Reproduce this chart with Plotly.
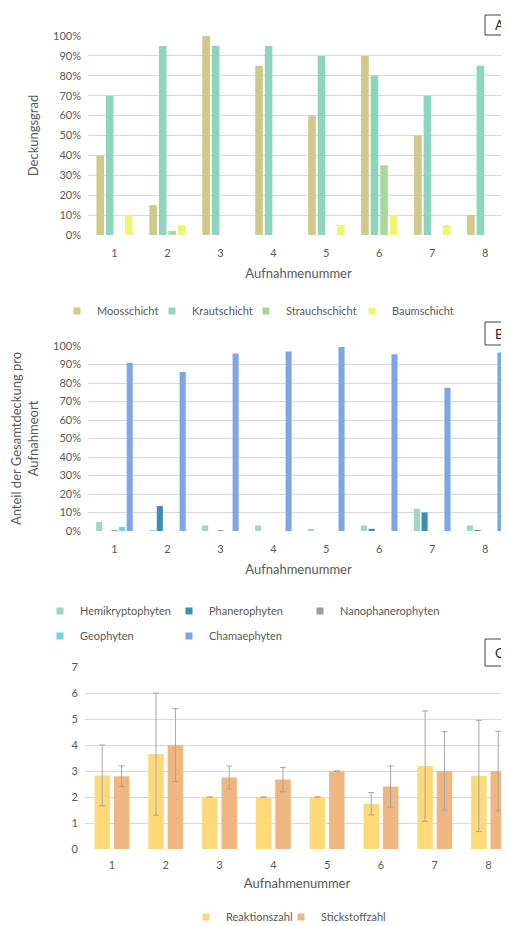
import plotly.graph_objects as go

# page body has an 8px margin; the figure is sized so it fills the 509x926 window
OFF = 8
W, H = 509 - OFF, 926 - OFF
FONT = "Lato"
TXT = "#595959"
GRID = "#D9D9D9"

# ---------- data ----------
aufnahmen = [1, 2, 3, 4, 5, 6, 7, 8]
tick_labels = ["1", "2", "3", "4", "5", "6", "7", "8"]

# Chart A (Deckungsgrad, fraction)
moosschicht = [0.40, 0.15, 1.00, 0.85, 0.60, 0.90, 0.50, 0.10]
krautschicht = [0.70, 0.95, 0.95, 0.95, 0.90, 0.80, 0.70, 0.85]
strauchschicht = [0.00, 0.02, 0.00, 0.00, 0.00, 0.35, 0.00, 0.00]
baumschicht = [0.10, 0.05, 0.00, 0.00, 0.05, 0.10, 0.05, 0.00]

# Chart B (Anteil der Gesamtdeckung, fraction)
hemikryptophyten = [0.05, 0.003, 0.03, 0.03, 0.008, 0.03, 0.12, 0.03]
phanerophyten = [0.0, 0.135, 0.0, 0.0, 0.0, 0.012, 0.10, 0.005]
nanophanerophyten = [0.005, 0.0, 0.005, 0.0, 0.0, 0.0, 0.0, 0.0]
geophyten = [0.022, 0.0, 0.0, 0.0, 0.0, 0.0, 0.0, 0.0]
chamaephyten = [0.91, 0.86, 0.96, 0.97, 0.995, 0.955, 0.775, 0.965]

# Chart C (Zeigerwerte, mean and standard deviation)
reaktionszahl = [2.83, 3.65, 2.0, 2.0, 2.0, 1.74, 3.19, 2.81]
reaktion_sd = [1.17, 2.35, 0.0, 0.0, 0.0, 0.43, 2.12, 2.14]
stickstoffzahl = [2.80, 4.0, 2.75, 2.67, 3.0, 2.40, 3.0, 3.0]
stickstoff_sd = [0.40, 1.40, 0.44, 0.47, 0.0, 0.79, 1.51, 1.53]

pct_ticks = [0, 0.1, 0.2, 0.3, 0.4, 0.5, 0.6, 0.7, 0.8, 0.9, 1.0]
pct_labels = ["0%", "10%", "20%", "30%", "40%", "50%", "60%", "70%", "80%", "90%", "100%"]
c_ticks = [0, 1, 2, 3, 4, 5, 6, 7]


def px_x(p):
    return (p - OFF) / W


def px_y(p):
    return 1 - (p - OFF) / H


fig = go.Figure()
legend_font = dict(family=FONT, size=11, color=TXT)
legend_layout = {}
legend_count = [0]


def add_bars(names, values, colors, xa, ya, legend_pos, err=None):
    for i, (n, v, c) in enumerate(zip(names, values, colors)):
        kw = {}
        if err is not None and err[i] is not None:
            kw["error_y"] = dict(type="data", array=err[i], visible=True,
                                 color="#A6A6A6", thickness=1, width=3)
        fig.add_trace(go.Bar(x=aufnahmen, y=v, name=n, marker_color=c,
                             marker_line_width=0, xaxis=xa, yaxis=ya,
                             offsetgroup=f"{xa}{i}", showlegend=False,
                             hoverinfo="skip", **kw))
        # one legend per entry, placed where the original legend shows it
        legend_count[0] += 1
        lname = "legend" if legend_count[0] == 1 else f"legend{legend_count[0]}"
        lx, ly = legend_pos[i]
        legend_layout[lname] = dict(x=px_x(lx), y=px_y(ly), xanchor="left", yanchor="middle",
                                    orientation="h", font=legend_font, itemwidth=30,
                                    bgcolor="rgba(0,0,0,0)")
        fig.add_trace(go.Scatter(x=[None], y=[None], mode="markers", name=n,
                                 marker=dict(symbol="square", size=7, color=c),
                                 xaxis=xa, yaxis=ya, legend=lname,
                                 showlegend=True, hoverinfo="skip"))


add_bars(["Moosschicht", "Krautschicht", "Strauchschicht", "Baumschicht"],
         [moosschicht, krautschicht, strauchschicht, baumschicht],
         ["#CFC98A", "#8ED5C0", "#A8D99A", "#EEF56E"], "x", "y",
         [(57, 311), (152, 311), (246, 311), (352, 311)])

add_bars(["Hemikryptophyten", "Phanerophyten", "Nanophanerophyten", "Geophyten", "Chamaephyten"],
         [hemikryptophyten, phanerophyten, nanophanerophyten, geophyten, chamaephyten],
         ["#9ED8C2", "#3A8FB0", "#9E9E9E", "#6FD3E6", "#7FA6E3"], "x2", "y2",
         [(40, 611), (169, 611), (300, 611), (40, 636), (169, 636)])

add_bars(["Reaktionszahl", "Stickstoffzahl"],
         [reaktionszahl, stickstoffzahl],
         ["#FDD977", "#EFB77F"], "x3", "y3",
         [(186, 917), (281, 917)],
         err=[reaktion_sd, stickstoff_sd])

axis_font = dict(family=FONT, size=11, color=TXT)
title_font = dict(family=FONT, size=13, color=TXT)

common_x = dict(tickmode="array", tickvals=aufnahmen, ticktext=tick_labels,
                tickfont=axis_font, showgrid=False, zeroline=False,
                showline=False, ticks="", fixedrange=True, automargin=False)
common_y = dict(tickfont=axis_font, showgrid=True, gridcolor=GRID, gridwidth=1,
                zeroline=False, showline=False, ticks="", fixedrange=True,
                automargin=False)

fig.update_layout(
    width=W, height=H,
    margin=dict(l=0, r=0, t=0, b=0, autoexpand=False),
    paper_bgcolor="white", plot_bgcolor="white",
    font=dict(family=FONT, color=TXT),
    barmode="group",
    bargap=0.28, bargroupgap=0.2,
    showlegend=True,
    xaxis=dict(domain=[px_x(88), 1.0], range=[0.5, 8.45], anchor="y", ticklabelstandoff=10,
               title=dict(text="Aufnahmenummer", font=title_font, standoff=10), **common_x),
    yaxis=dict(domain=[px_y(235), px_y(36)], range=[0, 1.0], anchor="x", ticklabelstandoff=6,
               tickvals=pct_ticks, ticktext=pct_labels,
               title=dict(text="Deckungsgrad", font=title_font, standoff=11), **common_y),
    xaxis2=dict(domain=[px_x(88), 1.0], range=[0.5, 8.45], anchor="y2", ticklabelstandoff=10,
                title=dict(text="Aufnahmenummer", font=title_font, standoff=10), **common_x),
    yaxis2=dict(domain=[px_y(531), px_y(346)], range=[0, 1.0], anchor="x2", ticklabelstandoff=6,
                tickvals=pct_ticks, ticktext=pct_labels,
                title=dict(text="Anteil der Gesamtdeckung pro<br>Aufnahmeort", font=title_font, standoff=12),
                **common_y),
    xaxis3=dict(domain=[px_x(85), 1.0], range=[0.5, 8.38], anchor="y3", ticklabelstandoff=8,
                title=dict(text="Aufnahmenummer", font=title_font, standoff=8), **common_x),
    yaxis3=dict(domain=[px_y(849), px_y(667)], range=[0, 7], anchor="x3", ticklabelstandoff=6,
                tickvals=c_ticks, **common_y),
    **legend_layout,
)

# panel labels A, B, C with boxes
for label, top, bottom in [("A", 15, 35), ("B", 322, 345), ("C", 639, 666)]:
    fig.add_shape(type="rect", xref="paper", yref="paper",
                  x0=px_x(485), x1=px_x(560), y0=px_y(bottom), y1=px_y(top),
                  line=dict(color="#404040", width=1), fillcolor="white")
    fig.add_annotation(text=label, xref="paper", yref="paper",
                       x=px_x(499), y=px_y((top + bottom) / 2),
                       xanchor="center", yanchor="middle", showarrow=False,
                       font=dict(family=FONT, size=13, color="#262626"))

fig.write_html("out.html")
